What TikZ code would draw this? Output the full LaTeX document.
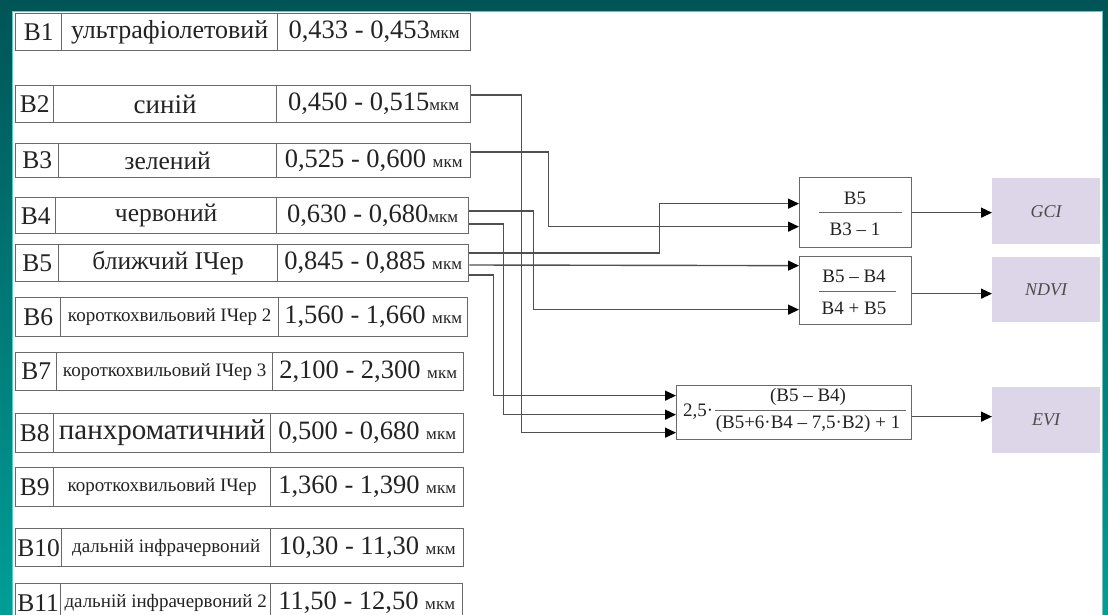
\documentclass[tikz,border=0pt]{standalone}
\usepackage{fontspec}
\setmainfont{Liberation Serif}
\usetikzlibrary{arrows.meta}
\definecolor{tealdark}{RGB}{0,84,86}
\definecolor{teallight}{RGB}{0,158,152}
\definecolor{boxc}{RGB}{105,105,105}
\definecolor{linec}{RGB}{80,80,80}
\definecolor{txt}{RGB}{35,35,35}
\definecolor{resfill}{RGB}{220,214,232}
\newcommand\mkmu{{\fontsize{17}{19}\selectfont мкм}}
\newcommand\fsnum{\fontsize{26.5}{28}\selectfont}
\newcommand\fsname{\fontsize{25.5}{27}\selectfont}
\newcommand\fssmall{\fontsize{19}{21}\selectfont}
\newcommand\fsform{\fontsize{19}{21}\selectfont}
\tikzset{
  cell/.style={draw=boxc, line width=1.3pt, inner sep=0pt, anchor=north west, text=txt},
  fbox/.style={draw=boxc, line width=1.3pt, inner sep=0pt, anchor=north west},
  ftext/.style={inner sep=0pt, text=txt, font=\fsform},
  resbox/.style={fill=resfill, inner sep=0pt, anchor=north west, text=black!70, font=\fontsize{18}{20}\selectfont\itshape},
  conn/.style={draw=linec, line width=1.4pt, -{Triangle[length=11pt,width=10pt,fill=black,color=black]}},
}
\begin{document}
\begin{tikzpicture}[x=1pt,y=-1pt]
\useasboundingbox (0,0) rectangle (1108,615);
\clip (0,0) rectangle (1108,615);
\shade[top color=tealdark, bottom color=teallight] (0,0) rectangle (1108,615);
\fill[white] (12,11) rectangle (1102,630);
\draw[teallight!60, line width=0.8pt] (12,630) -- (12,11) -- (1102,11) -- (1102,630);

% B1
\node[cell, minimum width=46pt, minimum height=37pt, font=\fsname] (b1a) at (15,13) {B1};
\node[cell, minimum width=216pt, minimum height=37pt, font=\fontsize{26}{28}\selectfont] (b1b) at (61,13) {ультрафіолетовий};
\node[cell, minimum width=193pt, minimum height=37pt, font=\fsnum] (b1c) at (277,13) {0,433 - 0,453\mkmu};
% B2
\node[cell, minimum width=38pt, minimum height=37pt, font=\fsname] (b2a) at (15,85) {B2};
\node[cell, minimum width=223pt, minimum height=37pt, font=\fontsize{27}{29}\selectfont] (b2b) at (53,85) {синій};
\node[cell, minimum width=194pt, minimum height=37pt, font=\fsnum] (b2c) at (276,85) {0,450 - 0,515\mkmu};
% B3
\node[cell, minimum width=43pt, minimum height=34pt, font=\fsname] (b3a) at (15,143) {B3};
\node[cell, minimum width=218pt, minimum height=34pt, font=\fsname] (b3b) at (58,143) {зелений};
\node[cell, minimum width=194pt, minimum height=34pt, font=\fsnum] (b3c) at (276,143) {0,525 - 0,600 \mkmu};
% B4
\node[cell, minimum width=40pt, minimum height=36pt, font=\fsname] (b4a) at (15,197) {B4};
\node[cell, minimum width=221pt, minimum height=36pt, font=\fsname] (b4b) at (55,197) {червоний};
\node[cell, minimum width=192pt, minimum height=36pt, font=\fsnum] (b4c) at (276,197) {0,630 - 0,680\mkmu};
% B5
\node[cell, minimum width=43pt, minimum height=37pt, font=\fsname] (b5a) at (15,244) {B5};
\node[cell, minimum width=219pt, minimum height=37pt, font=\fsname] (b5b) at (58,244) {ближчий ІЧер};
\node[cell, minimum width=191pt, minimum height=37pt, font=\fsnum] (b5c) at (277,244) {0,845 - 0,885 \mkmu};
% B6
\node[cell, minimum width=45pt, minimum height=39pt, font=\fsname] (b6a) at (15,297) {B6};
\node[cell, minimum width=218pt, minimum height=39pt, font=\fssmall] (b6b) at (60,297) {короткохвильовий ІЧер 2};
\node[cell, minimum width=189pt, minimum height=39pt, font=\fsnum] (b6c) at (278,297) {1,560 - 1,660 \mkmu};
% B7
\node[cell, minimum width=41pt, minimum height=38pt, font=\fsname] (b7a) at (15,352) {B7};
\node[cell, minimum width=216pt, minimum height=38pt, font=\fssmall] (b7b) at (56,352) {короткохвильовий ІЧер 3};
\node[cell, minimum width=191pt, minimum height=38pt, font=\fsnum] (b7c) at (272,352) {2,100 - 2,300 \mkmu};
% B8
\node[cell, minimum width=38pt, minimum height=39pt, font=\fsname] (b8a) at (15,413) {B8};
\node[cell, minimum width=217pt, minimum height=39pt, font=\fontsize{29}{31}\selectfont] (b8b) at (53,413) {панхроматичний};
\node[cell, minimum width=193pt, minimum height=39pt, font=\fsnum] (b8c) at (270,413) {0,500 - 0,680 \mkmu};
% B9
\node[cell, minimum width=38pt, minimum height=39pt, font=\fsname] (b9a) at (15,467) {B9};
\node[cell, minimum width=217pt, minimum height=39pt, font=\fssmall] (b9b) at (53,467) {короткохвильовий ІЧер};
\node[cell, minimum width=193pt, minimum height=39pt, font=\fsnum] (b9c) at (270,467) {1,360 - 1,390 \mkmu};
% B10
\node[cell, minimum width=46pt, minimum height=38pt, font=\fsname] (b10a) at (15,528) {B10};
\node[cell, minimum width=209pt, minimum height=38pt, font=\fssmall] (b10b) at (61,528) {дальній інфрачервоний};
\node[cell, minimum width=193pt, minimum height=38pt, font=\fsnum] (b10c) at (270,528) {10,30 - 11,30 \mkmu};
% B11
\node[cell, minimum width=45pt, minimum height=38pt, font=\fsname] (b11a) at (15,583) {B11};
\node[cell, minimum width=210pt, minimum height=38pt, font=\fssmall] (b11b) at (60,583) {дальній інфрачервоний 2};
\node[cell, minimum width=192pt, minimum height=38pt, font=\fsnum] (b11c) at (270,583) {11,50 - 12,50 \mkmu};

% formula boxes
\node[fbox, minimum width=112pt, minimum height=70pt] (gci) at (799,177) {};
\node[ftext] (gcinum) at (855,198) {B5};
\node[ftext] (gciden) at (855,229) {B3 – 1};
\draw[boxc, line width=1.3pt] ([xshift=20pt]gci.west) -- ([xshift=-10pt]gci.east);

\node[fbox, minimum width=112pt, minimum height=68pt] (ndvi) at (799,256) {};
\node[ftext] (ndvinum) at (854,276) {B5 – B4};
\node[ftext] (ndviden) at (854,308) {B4 + B5};
\draw[boxc, line width=1.3pt] ([xshift=20pt,yshift=-1pt]ndvi.west) -- ([xshift=-16pt,yshift=-1pt]ndvi.east);

\node[fbox, minimum width=235pt, minimum height=54pt] (evi) at (676,385) {};
\node[ftext, anchor=west] (evik) at (683,412) {2,5·};
\node[ftext] (evinum) at (808,397) {(B5 – B4)};
\node[ftext] (eviden) at (808,424) {(B5+6·B4 – 7,5·B2) + 1};
\draw[boxc, line width=1.3pt] ([xshift=39pt,yshift=2pt]evi.west) -- ([xshift=-6pt,yshift=2pt]evi.east);

% result boxes
\node[resbox, minimum width=108pt, minimum height=66pt] (gcir) at (992,178) {GCI};
\node[resbox, minimum width=108pt, minimum height=65pt] (ndvir) at (992,257) {NDVI};
\node[resbox, minimum width=108pt, minimum height=66pt] (evir) at (992,387) {EVI};

% connectors
\draw[conn] ([yshift=-10pt]b2c.north east) -- ++(50,0) |- ([yshift=-20pt]evi.west);
\draw[conn] ([yshift=-9pt]b3c.north east) -- ++(77,0) |- ([yshift=-14pt]gci.west);
\draw[conn] ([yshift=-14pt]b4c.north east) -- ++(64,0) |- ([yshift=-19pt]ndvi.west);
\draw[conn] ([yshift=-27pt]b4c.north east) -- ++(34,0) |- ([yshift=-2pt]evi.west);
\draw[conn] ([yshift=-9pt]b5c.north east) -- ++(190,0) |- ([yshift=9pt]gci.west);
\draw[conn] ([yshift=-21pt]b5c.north east) -- ([yshift=25pt]ndvi.west);
\draw[conn] ([yshift=-31pt]b5c.north east) -- ++(24,0) |- ([yshift=17pt]evi.west);

\draw[conn] (gci.east) -- (gci.east -| gcir.west);
\draw[conn] ([yshift=-3pt]ndvi.east) -- ([yshift=-3pt]ndvi.east -| ndvir.west);
\draw[conn] ([yshift=-4pt]evi.east) -- ([yshift=-4pt]evi.east -| evir.west);
\end{tikzpicture}
\end{document}
